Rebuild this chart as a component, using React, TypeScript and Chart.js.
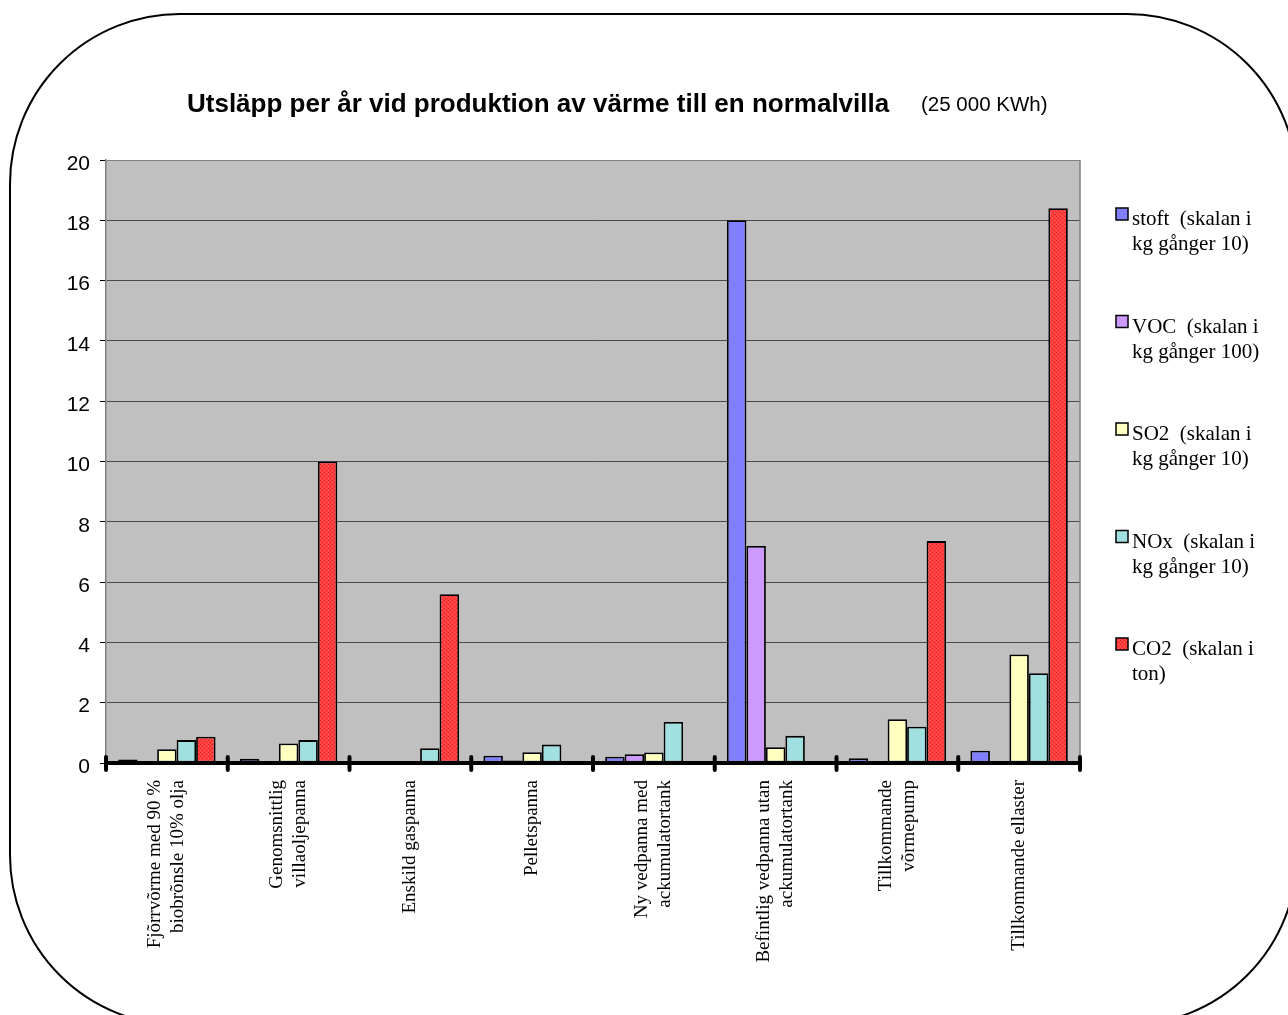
import { useEffect, useRef } from "react";
import { Chart, registerables } from "chart.js";

Chart.register(...registerables);

// Heating alternatives (x axis categories, split into lines)
const categories: string[][] = [
  ["Fjõrrvõrme med 90 %", "biobrõnsle 10% olja"],
  ["Genomsnittlig", "villaoljepanna"],
  ["Enskild gaspanna"],
  ["Pelletspanna"],
  ["Ny vedpanna med", "ackumulatortank"],
  ["Befintlig vedpanna utan", "ackumulatortank"],
  ["Tillkommande", "võrmepump"],
  ["Tillkommande ellaster"],
];

// Emissions per year for each alternative
const stoft = [0.12, 0.14, 0, 0.24, 0.21, 18, 0.16, 0.41];
const voc = [0, 0, 0, 0.08, 0.29, 7.2, 0, 0];
const so2 = [0.46, 0.65, 0, 0.36, 0.35, 0.52, 1.45, 3.6];
const nox = [0.76, 0.76, 0.49, 0.61, 1.36, 0.9, 1.2, 2.98];
const co2 = [0.87, 10, 5.6, 0, 0, 0, 7.36, 18.4];

const seriesLabels: string[][] = [
  ["stoft  (skalan i", "kg gånger 10)"],
  ["VOC  (skalan i", "kg gånger 100)"],
  ["SO2  (skalan i", "kg gånger 10)"],
  ["NOx  (skalan i", "kg gånger 10)"],
  ["CO2  (skalan i", "ton)"],
];

const yMin = 0;
const yMax = 20;
const yStep = 2;

const titleMain = "Utsläpp per år vid produktion av värme till en normalvilla";
const titleNote = "(25 000 KWh)";

const serif = "'Liberation Serif', 'Times New Roman', serif";
const sans = "'Liberation Sans', Arial, sans-serif";

function makeRedPattern(): CanvasPattern | string {
  const c = document.createElement("canvas");
  c.width = 4;
  c.height = 4;
  const g = c.getContext("2d");
  if (!g) return "#ff3333";
  g.fillStyle = "#ff3c3c";
  g.fillRect(0, 0, 4, 4);
  g.fillStyle = "#ee2a2a";
  g.fillRect(0, 0, 1, 1);
  g.fillRect(2, 2, 1, 1);
  g.fillStyle = "#ff5c5c";
  g.fillRect(2, 0, 1, 1);
  g.fillRect(0, 2, 1, 1);
  const p = g.createPattern(c, "repeat");
  return p || "#ff3333";
}

export default function App() {
  const ref = useRef<HTMLCanvasElement>(null);

  useEffect(() => {
    const canvas = ref.current;
    if (!canvas) return;
    const red = makeRedPattern();
    const fills: (string | CanvasPattern)[] = ["#8080ff", "#cc99ff", "#ffffc0", "#a0e0e0", red];
    const values = [stoft, voc, so2, nox, co2];

    const framePlugin = {
      id: "frame",
      beforeDraw(chart: any) {
        const { ctx, chartArea } = chart;
        ctx.save();
        ctx.fillStyle = "#ffffff";
        ctx.fillRect(0, 0, chart.width, chart.height);
        // rounded outline around the whole figure
        const x0 = 10, y0 = 14, x1 = 1297, y1 = 1025, r = 170;
        ctx.beginPath();
        ctx.moveTo(x0 + r, y0);
        ctx.lineTo(x1 - r, y0);
        ctx.arcTo(x1, y0, x1, y0 + r, r);
        ctx.lineTo(x1, y1 - r);
        ctx.arcTo(x1, y1, x1 - r, y1, r);
        ctx.lineTo(x0 + r, y1);
        ctx.arcTo(x0, y1, x0, y1 - r, r);
        ctx.lineTo(x0, y0 + r);
        ctx.arcTo(x0, y0, x0 + r, y0, r);
        ctx.closePath();
        ctx.lineWidth = 2;
        ctx.strokeStyle = "#000";
        ctx.stroke();
        // plot background
        ctx.fillStyle = "#c0c0c0";
        ctx.fillRect(chartArea.left, chartArea.top, chartArea.right - chartArea.left, chartArea.bottom - chartArea.top);
        ctx.restore();
      },
      beforeDatasetsDraw(chart: any) {
        const { ctx, chartArea } = chart;
        ctx.save();
        ctx.strokeStyle = "#808080";
        ctx.lineWidth = 1.5;
        ctx.beginPath();
        ctx.moveTo(chartArea.right, chartArea.top);
        ctx.lineTo(chartArea.right, chartArea.bottom);
        ctx.stroke();
        ctx.restore();
      },
      afterDatasetsDraw(chart: any) {
        const { ctx, chartArea } = chart;
        const yz = chart.scales.y.getPixelForValue(0);
        ctx.save();
        ctx.strokeStyle = "#000";
        ctx.lineWidth = 4;
        ctx.beginPath();
        ctx.moveTo(chartArea.left, yz);
        ctx.lineTo(chartArea.right, yz);
        ctx.stroke();
        const n = categories.length;
        const w = (chartArea.right - chartArea.left) / n;
        ctx.lineCap = "round";
        for (let i = 0; i <= n; i++) {
          const x = chartArea.left + i * w;
          ctx.beginPath();
          ctx.moveTo(x, yz - 6);
          ctx.lineTo(x, yz + 7);
          ctx.stroke();
        }
        ctx.restore();
      },
      afterDraw(chart: any) {
        const { ctx } = chart;
        ctx.save();
        ctx.fillStyle = "#000";
        ctx.textBaseline = "alphabetic";
        ctx.textAlign = "left";
        ctx.font = `bold 26px ${sans}`;
        ctx.fillText(titleMain, 187, 112);
        ctx.font = `20.5px ${sans}`;
        ctx.fillText(titleNote, 921, 111);

        // category labels, rotated, each block centred on its category
        const xs = chart.scales.x;
        const lh = 23;
        ctx.font = `19px ${serif}`;
        ctx.textAlign = "right";
        ctx.textBaseline = "middle";
        (chart.data.labels as string[][]).forEach((lines, i) => {
          const cx = xs.getPixelForValue(i);
          const start = cx - ((lines.length - 1) * lh) / 2;
          lines.forEach((t, j) => {
            ctx.save();
            ctx.translate(start + j * lh, chart.chartArea.bottom + 17);
            ctx.rotate(-Math.PI / 2);
            ctx.fillText(t, 0, 0);
            ctx.restore();
          });
        });

        // legend
        ctx.textAlign = "left";
        ctx.textBaseline = "alphabetic";
        const lx = 1116, ly = 208, gap = 107.5, box = 12;
        ctx.font = `21px ${serif}`;
        chart.data.datasets.forEach((ds: any, i: number) => {
          const y = ly + i * gap;
          ctx.fillStyle = ds.backgroundColor;
          ctx.fillRect(lx, y, box, box);
          ctx.strokeStyle = "#000";
          ctx.lineWidth = 1.5;
          ctx.strokeRect(lx, y, box, box);
          ctx.fillStyle = "#000";
          const lines: string[] = seriesLabels[i];
          lines.forEach((t, j) => ctx.fillText(t, 1132, y + 17 + j * 25));
        });
        ctx.restore();
      },
    };

    const chart = new Chart(canvas, {
      type: "bar",
      data: {
        labels: categories,
        datasets: values.map((v, i) => ({
          label: seriesLabels[i].join(" "),
          data: v,
          backgroundColor: fills[i] as any,
          borderColor: "#000",
          borderWidth: 1.8,
          borderSkipped: false,
          categoryPercentage: 0.8,
          barPercentage: 1,
        })),
      },
      options: {
        animation: false,
        responsive: true,
        maintainAspectRatio: false,
        layout: { padding: { left: 56, top: 160, right: 208, bottom: 0 } },
        plugins: {
          legend: { display: false },
          title: { display: false },
          tooltip: { enabled: false },
        },
        scales: {
          x: {
            grid: { display: false, drawTicks: false },
            border: { display: false },
            ticks: { display: false },
            afterFit(scale: any) {
              scale.height = 252;
            },
          },
          y: {
            min: yMin,
            max: yMax,
            ticks: {
              stepSize: yStep,
              padding: 10,
              labelOffset: 4,
              color: "#000",
              font: { family: sans, size: 21 },
            },
            grid: {
              color: (c: any) => (c.tick && c.tick.value === yMax ? "#808080" : "#4a4a4a"),
              lineWidth: 1,
              tickLength: 6,
              tickColor: "#000",
            },
            border: { display: true, color: "#808080", width: 1.5 },
            afterFit(scale: any) {
              scale.width = 50;
            },
          },
        },
      },
      plugins: [framePlugin],
    });

    return () => chart.destroy();
  }, []);

  return (
    <div style={{ position: "fixed", left: 0, top: 0, width: 1288, height: 1015, background: "#fff" }}>
      <canvas ref={ref} />
    </div>
  );
}
